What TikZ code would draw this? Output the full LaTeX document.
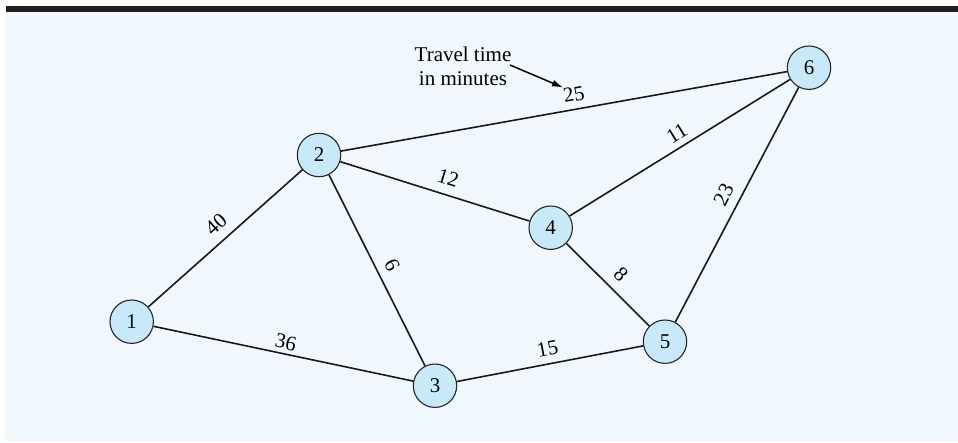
\documentclass[tikz,border=0pt]{standalone}
\usepackage{fontspec}
\setmainfont{Liberation Serif}
\usetikzlibrary{arrows.meta}
\definecolor{bgblue}{RGB}{240,248,254}
\definecolor{nodeblue}{RGB}{200,234,248}
\definecolor{barcol}{RGB}{35,31,32}
\begin{document}
\begin{tikzpicture}[x=1pt,y=-1pt,
  vertex/.style={circle,draw=black!85,line width=1.1pt,fill=nodeblue,minimum size=43.4pt,inner sep=0pt,font=\fontsize{21}{24}\selectfont},
  edge/.style={line width=1.6pt,draw=black!90},
  wt/.style={sloped,anchor=south,inner sep=#1,font=\fontsize{21}{24}\selectfont},
  note/.style={align=center,inner sep=0pt,font=\fontsize{21}{24}\selectfont}]
\useasboundingbox (0,0) rectangle (958,442);
\fill[bgblue] (6,12) rectangle (958,441);
\fill[barcol] (6,6) rectangle (958,12);

\node[vertex] (n1) at (131.7,321.7) {1};
\node[vertex] (n2) at (319,155) {2};
\node[vertex] (n3) at (435,385.7) {3};
\node[vertex] (n4) at (550.7,227.7) {4};
\node[vertex] (n5) at (665,341.7) {5};
\node[vertex] (n6) at (809,67.7) {6};

\draw[edge] (n1) -- node[wt=8.6pt,pos=0.51]{40} (n2);
\draw[edge] (n1) -- node[wt=3.8pt,pos=0.50]{36} (n3);
\draw[edge] (n2) -- node[wt=8pt,pos=0.51]{6} (n3);
\draw[edge] (n2) -- node[wt=9pt,pos=0.544]{12} (n4);
\draw[edge] (n2) -- node[wt=7.1pt,pos=0.528]{25} (n6);
\draw[edge] (n4) -- node[wt=6.2pt,pos=0.519]{11} (n6);
\draw[edge] (n4) -- node[wt=9pt,pos=0.515]{8} (n5);
\draw[edge] (n5) -- node[wt=8.7pt,pos=0.51]{23} (n6);
\draw[edge] (n3) -- node[wt=7.4pt,pos=0.502]{15} (n5);

\node[note] (tt) at (463,66) {Travel time\\in minutes};
\coordinate (aS) at (510,65);
\coordinate (aE) at (563,87.5);
\draw[line width=1.5pt,-{Latex[length=11pt,width=7pt]}] (aS) -- (aE);
\end{tikzpicture}
\end{document}
